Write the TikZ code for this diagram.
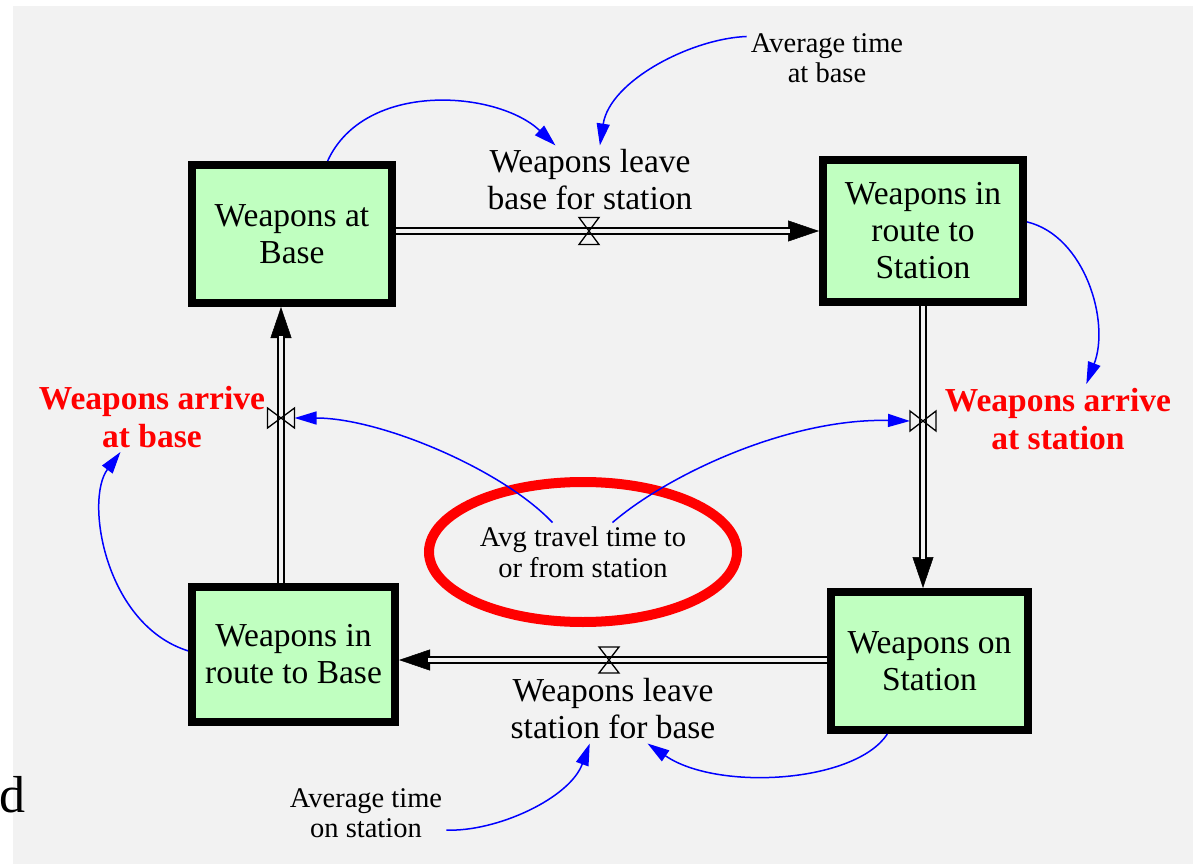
\documentclass[tikz,border=0pt]{standalone}
\usepackage{fontspec}
\setmainfont{Liberation Serif}
\usetikzlibrary{arrows.meta,shapes.geometric}
\definecolor{bgc}{RGB}{242,242,242}
\definecolor{boxg}{RGB}{192,255,192}
\definecolor{lnkblue}{RGB}{0,0,255}
\definecolor{hotred}{RGB}{255,0,0}
\begin{document}
\begin{tikzpicture}[x=1pt,y=-1pt,
  stock/.style={draw=black, line width=8pt, fill=boxg, inner sep=4pt, align=center, font=\fontsize{33.5}{37}\selectfont},
  flowlabel/.style={inner sep=4pt, align=center, font=\fontsize{33.5}{37}\selectfont},
  redlabel/.style={inner sep=4pt, align=center, text=hotred, font=\bfseries\fontsize{33.5}{38}\selectfont},
  auxlabel/.style={inner sep=4pt, align=center, font=\fontsize{28.5}{30.5}\selectfont},
  valvebox/.style={inner sep=0pt, outer sep=0pt},
  valveline/.style={draw=black, line width=1.3pt, line join=miter},
  pipe/.style={draw=black, line width=1.5pt, double=bgc, double distance=4.5pt, shorten >=29pt},
  pipehead/.style={draw=black, line width=0.5pt, -{Triangle[length=31pt,width=21pt]}},
  link/.style={draw=lnkblue, line width=1.5pt, -{Triangle[length=22pt,width=13pt]}},
  highlight/.style={draw=hotred, line width=10pt},
]
\useasboundingbox (0,0) rectangle (1195,864);
\fill[bgc] (13,6) rectangle (1193,864);

% stocks
\node[stock, minimum width=200pt, minimum height=138pt] (b1) at (292,234) {Weapons at\\Base};
\node[stock, minimum width=200pt, minimum height=142pt] (b2) at (923,231) {Weapons in\\route to\\Station};
\node[stock, minimum width=203pt, minimum height=135pt] (b3) at (293.5,654.5) {Weapons in\\route to Base};
\node[stock, minimum width=197pt, minimum height=138pt] (b4) at (929.5,661) {Weapons on\\Station};

% labels
\node[flowlabel] (f1) at (590,180) {Weapons leave\\base for station};
\node[flowlabel] (f2) at (613,709) {Weapons leave\\station for base};
\node[redlabel] (r1) at (1058,419) {Weapons arrive\\at station};
\node[redlabel] (r2) at (152,417) {Weapons arrive\\at base};
\node[auxlabel] (atb) at (827,58) {Average time\\at base};
\node[auxlabel] (aos) at (366,813) {Average time\\on station};
\node[auxlabel] (avg) at (583,552) {Avg travel time to\\or from station};
\draw[highlight] (avg) ellipse [x radius=154, y radius=70];
\node[font=\fontsize{52}{56}\selectfont, anchor=base west, inner sep=0pt] (dlet) at (-1,812) {d};

% valves
\node[valvebox, minimum width=20pt, minimum height=27pt] (v1) at (589,231) {};
\node[valvebox, minimum width=27pt, minimum height=20pt] (v2) at (281,418) {};
\node[valvebox, minimum width=26pt, minimum height=20pt] (v3) at (923,421) {};
\node[valvebox, minimum width=20pt, minimum height=26pt] (v4) at (609,660) {};

% pipes
\draw[pipehead] (b1.east |- v1) -- (b2.west |- v1);
\draw[pipe] (b1.east |- v1) -- (b2.west |- v1);
\draw[pipehead] (v2 |- b3.north) -- (v2 |- b1.south);
\draw[pipe] (v2 |- b3.north) -- (v2 |- b1.south);
\draw[pipehead] (v3 |- b2.south) -- (v3 |- b4.north);
\draw[pipe] (v3 |- b2.south) -- (v3 |- b4.north);
\draw[pipehead] (b4.west |- v4) -- (b3.east |- v4);
\draw[pipe] (b4.west |- v4) -- (b3.east |- v4);

\draw[valveline] (v1.north west) -- (v1.north east) -- (v1.south west) -- (v1.south east) -- cycle;
\draw[valveline] (v2.north west) -- (v2.south west) -- (v2.north east) -- (v2.south east) -- cycle;
\draw[valveline] (v3.north west) -- (v3.south west) -- (v3.north east) -- (v3.south east) -- cycle;
\draw[valveline] (v4.north west) -- (v4.north east) -- (v4.south west) -- (v4.south east) -- cycle;

% causal links
\draw[link] (b1.64) .. controls +(37,-81) and +(-58,-55) .. (f1.135);
\draw[link] (atb.165) .. controls +(-55,2) and +(10,-65) .. (f1.74);
\draw[link] (b2.5) .. controls +(58,14) and +(24,-62) .. (r1.51);
\draw[link] (avg.45) .. controls +(57,-49) and +(-120,-3) .. (v3.west);
\draw[link] (avg.136) .. controls +(-50,-53) and +(86,0) .. (v2.east);
\draw[link] (b3.178) .. controls +(-83,-26) and +(-36,48) .. (r2.228);
\draw[link] (b4.240) .. controls +(-32,49) and +(70,48) .. (f2.315);
\draw[link] (aos.348) .. controls +(50,2) and +(-20,55) .. (f2.236);
\end{tikzpicture}
\end{document}
